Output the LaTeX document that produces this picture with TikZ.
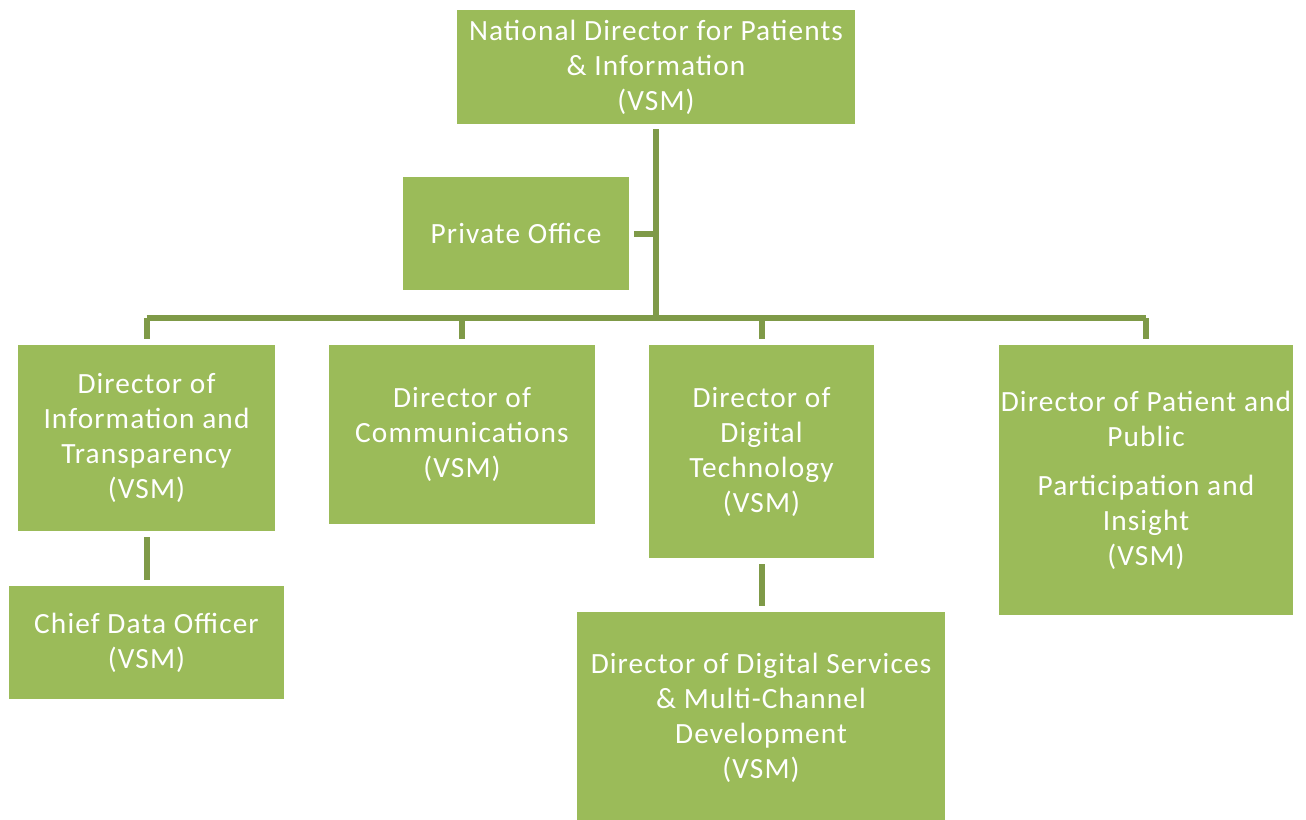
\documentclass[tikz,border=0pt]{standalone}
\usepackage{fontspec}
\setmainfont{Carlito}[LetterSpace=3.8]
\definecolor{boxfill}{HTML}{9BBB59}
\definecolor{linegreen}{HTML}{7F9A48}
\begin{document}
\begin{tikzpicture}[x=0.75pt,y=-0.75pt,
  box/.style={fill=boxfill, draw=none, inner sep=0pt, align=center, text=white,
    font=\fontsize{22pt}{26.25pt}\selectfont},
  wh/.style 2 args={minimum width=#1*0.75pt, minimum height=#2*0.75pt},
  conn/.style={draw=linegreen, line width=4.5pt}]
\useasboundingbox (0,0) rectangle (1306,819);
\node[box, wh={398}{114}] (top) at (656,67) {National Director for Patients\\ \& Information\\ (VSM)};
\node[box, wh={226}{113}] (priv) at (516,233.5) {Private Office};
\node[box, wh={257}{186}] (d1) at (146.5,438) {Director of\\ Information and\\ Transparency\\ (VSM)};
\node[box, wh={266}{179}] (d2) at (462,434.5) {Director of\\ Communications\\ (VSM)};
\node[box, wh={225}{213}] (d3) at (761.5,451.5) {Director of\\ Digital\\ Technology\\ (VSM)};
\node[box, wh={294}{270}] (d4) at (1146,480) {Director of Patient and\\ Public\\[10.5pt] Participation and\\ Insight\\ (VSM)};
\node[box, wh={275}{113}] (cdo) at (146.5,642.5) {Chief Data Officer\\ (VSM)};
\node[box, wh={368}{212}] (ds) at (761,718) {Director of Digital Services\\ \& Multi-Channel\\ Development\\ (VSM)};
\coordinate (bus) at (656,318);
\draw[conn, shorten <=3.75pt] (top.south) -- (bus);
\draw[conn, shorten <=3.75pt] (priv.east) -- (priv.east -| bus);
\draw[conn] (bus -| d1.north) -- (bus -| d4.north);
\foreach \d in {d1,d2,d3,d4}{
  \draw[conn, shorten >=4.5pt] (bus -| \d.north) -- (\d.north);
}
\draw[conn, shorten <=4.5pt, shorten >=4.5pt] (d1.south) -- (cdo.north);
\draw[conn, shorten <=4.5pt, shorten >=4.5pt] (d3.south) -- (d3.south |- ds.north);
\end{tikzpicture}
\end{document}
